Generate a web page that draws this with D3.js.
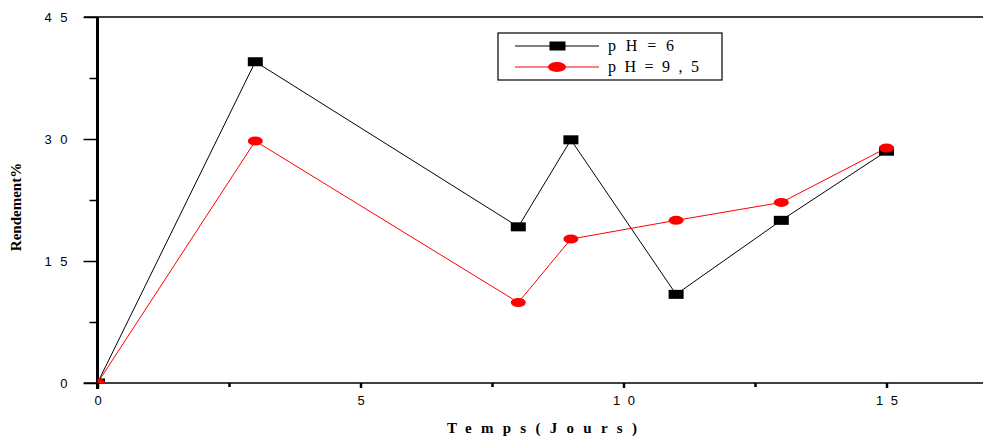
<!DOCTYPE html>
<html><head><meta charset="utf-8">
<script src="https://cdn.jsdelivr.net/npm/d3@7"></script>
<style>body{margin:0;background:#fff}svg{display:block}</style>
</head><body>
<script>
const days = [0, 3, 8, 9, 11, 13, 15];
const ph6 = [0, 39.5, 19.2, 29.9, 10.9, 20.0, 28.5];
const ph95 = [0, 29.75, 9.9, 17.7, 20.0, 22.2, 28.9];
const yTicks = [0, 15, 30, 45];
const yTickLabels = ["0", "15", "30", "45"];
const xTicks = [0, 5, 10, 15];
const xTickLabels = ["0", "5", "10", "15"];
const seriesNames = ["pH=6", "pH=9,5"];

const W = 983, H = 440;
const svg = d3.select("body").append("svg").attr("width", W).attr("height", H);
const x = d3.scaleLinear().domain([0, 17]).range([97.5, 97.5 + 17 * 52.6]);
const y = d3.scaleLinear().domain([0, 45]).range([383, 17]);

svg.append("defs").append("clipPath").attr("id", "clip")
  .append("rect").attr("x", x(0)).attr("y", y(45)).attr("width", W - x(0)).attr("height", y(0) - y(45));

// top border
svg.append("line").attr("x1", 84).attr("x2", W).attr("y1", y(45)).attr("y2", y(45))
  .attr("stroke", "#000").attr("stroke-width", 1.5);
// x axis line
svg.append("line").attr("x1", 84).attr("x2", W).attr("y1", y(0)).attr("y2", y(0))
  .attr("stroke", "#000").attr("stroke-width", 1.5);

// x axis ticks
const xMajor = d3.axisBottom(x).tickValues(xTicks).tickSize(5).tickFormat((d, i) => xTickLabels[i]);
const gx = svg.append("g").attr("transform", `translate(0,${y(0)})`).call(xMajor);
gx.select(".domain").remove();
gx.selectAll(".tick line").attr("stroke-width", 2.5);
gx.selectAll(".tick text").attr("font-family", "Liberation Sans, Arial, sans-serif").attr("font-size", 13)
  .attr("dy", "1.1em").attr("fill", "#000")
  .each(function(d, i) { if (xTickLabels[i].length > 1) d3.select(this).attr("textLength", 22).attr("lengthAdjust", "spacing"); });
const xMinor = d3.axisBottom(x).tickValues([2.5, 7.5, 12.5]).tickSize(4).tickFormat("");
const gxm = svg.append("g").attr("transform", `translate(0,${y(0)})`).call(xMinor);
gxm.select(".domain").remove();
gxm.selectAll(".tick line").attr("stroke-width", 2.5);

// y axis
const yMajor = d3.axisLeft(y).tickValues(yTicks).tickSize(14).tickFormat((d, i) => yTickLabels[i]);
const gy = svg.append("g").attr("transform", `translate(${x(0)},0)`).call(yMajor);
gy.select(".domain").remove();
gy.selectAll(".tick line").attr("stroke-width", 1.5);
gy.selectAll(".tick text").attr("font-family", "Liberation Sans, Arial, sans-serif").attr("font-size", 13)
  .attr("x", -30).attr("fill", "#000")
  .each(function(d, i) { if (yTickLabels[i].length > 1) d3.select(this).attr("textLength", 23).attr("lengthAdjust", "spacing"); });
const yMinor = d3.axisLeft(y).tickValues([7.5, 22.5, 37.5]).tickSize(8).tickFormat("");
const gym = svg.append("g").attr("transform", `translate(${x(0)},0)`).call(yMinor);
gym.select(".domain").remove();
gym.selectAll(".tick line").attr("stroke-width", 1.5);
// thick y axis line
svg.append("line").attr("x1", x(0)).attr("x2", x(0)).attr("y1", y(45)).attr("y2", y(0) + 6)
  .attr("stroke", "#000").attr("stroke-width", 3);

// series
const plot = svg.append("g").attr("clip-path", "url(#clip)");
const line = d3.line().x(d => x(d[0])).y(d => y(d[1]));
const d6 = days.map((d, i) => [d, ph6[i]]);
const d95 = days.map((d, i) => [d, ph95[i]]);
plot.append("path").datum(d6).attr("d", line).attr("fill", "none").attr("stroke", "#000").attr("stroke-width", 1);
plot.append("path").datum(d95).attr("d", line).attr("fill", "none").attr("stroke", "#ff0000").attr("stroke-width", 1);
plot.selectAll(".sq").data(d6).enter().append("rect")
  .attr("x", d => x(d[0]) - 7.5).attr("y", d => y(d[1]) - 4.5).attr("width", 15).attr("height", 9).attr("fill", "#000");
plot.selectAll(".el").data(d95).enter().append("ellipse")
  .attr("cx", d => x(d[0])).attr("cy", d => y(d[1])).attr("rx", 7.5).attr("ry", 4.5).attr("fill", "#ff0000");

// legend
const lg = svg.append("g");
lg.append("rect").attr("x", 498).attr("y", 33).attr("width", 224).attr("height", 47)
  .attr("fill", "#fff").attr("stroke", "#000").attr("stroke-width", 1.2);
lg.append("line").attr("x1", 515).attr("x2", 599).attr("y1", 46).attr("y2", 46).attr("stroke", "#000");
lg.append("rect").attr("x", 549.5).attr("y", 41.5).attr("width", 16).attr("height", 9).attr("fill", "#000");
lg.append("line").attr("x1", 515).attr("x2", 599).attr("y1", 67).attr("y2", 67).attr("stroke", "#ff0000");
lg.append("ellipse").attr("cx", 557).attr("cy", 67).attr("rx", 9).attr("ry", 5).attr("fill", "#ff0000");
const legendWidths = [66, 91];
lg.selectAll(".lt").data(seriesNames).enter().append("text")
  .attr("x", 608).attr("y", (d, i) => 51 + i * 21)
  .attr("font-family", "Liberation Serif, Times New Roman, serif").attr("font-size", 16)
  .attr("textLength", (d, i) => legendWidths[i]).attr("lengthAdjust", "spacing")
  .text(d => d);

// axis titles
svg.append("text").attr("x", 542).attr("y", 433).attr("text-anchor", "middle")
  .attr("font-family", "Liberation Serif, Times New Roman, serif").attr("font-weight", "bold").attr("font-size", 15)
  .attr("textLength", 190).attr("lengthAdjust", "spacing")
  .text("Temps(Jours)");
svg.append("text").attr("transform", "translate(21,207) rotate(-90)").attr("text-anchor", "middle")
  .attr("font-family", "Liberation Serif, Times New Roman, serif").attr("font-weight", "bold").attr("font-size", 15)
  .text("Rendement%");
</script>
</body></html>
